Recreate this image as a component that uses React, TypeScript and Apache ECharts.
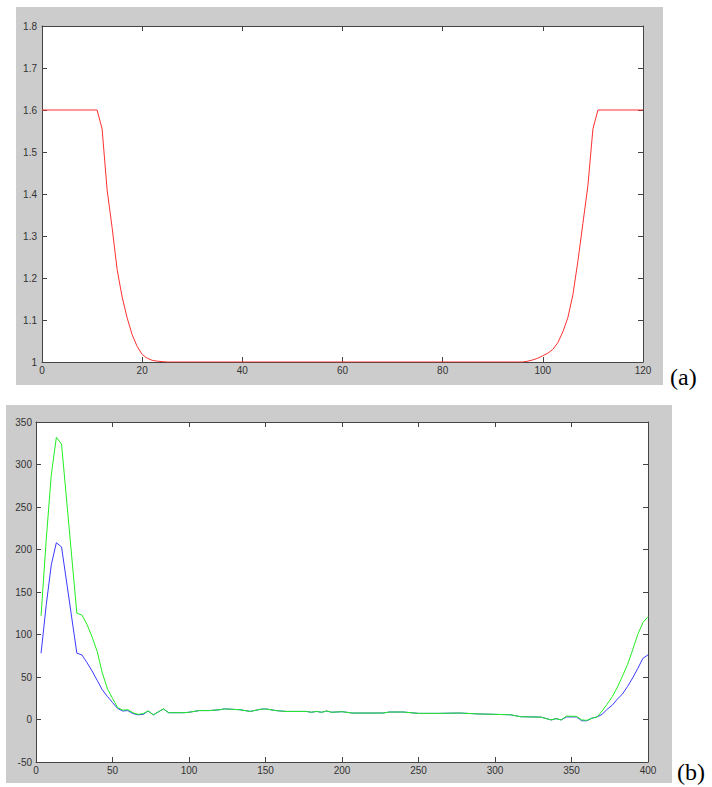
import { useEffect, useRef } from "react";
import * as echarts from "echarts";

// Panel (a): red profile
const aX = [0, 11, 12, 13, 14, 15, 16, 17, 18, 19, 20, 21, 22, 23, 24, 25,
  96, 97, 98, 99, 100, 101, 102, 103, 104, 105, 106, 107, 108, 109, 110, 111, 120];
const aY = [1.6, 1.6, 1.555, 1.41, 1.32, 1.22, 1.155, 1.105, 1.065, 1.037, 1.018, 1.009, 1.004, 1.002, 1.001, 1.0,
  1.0, 1.002, 1.005, 1.009, 1.015, 1.021, 1.03, 1.046, 1.072, 1.106, 1.16, 1.24, 1.33, 1.42, 1.555, 1.6, 1.6];
const aXTicks = { min: 0, max: 120, interval: 20 };
const aYTicks = { min: 1, max: 1.8, interval: 0.1 };

// Panel (b): green and blue curves
const bX = [
  3.3, 6.7, 10, 13.3, 16.7, 26.7, 30, 33.3, 36.7, 40,
  43.3, 46.7, 50, 53.3, 56.7, 60, 63.3, 66.7, 70, 73.3,
  76.7, 80, 83.3, 86.7, 90, 96.7, 100, 106.7, 113.3, 120,
  123.3, 133.3, 140, 146.7, 150, 156.7, 163.3, 176.7, 180, 183.3,
  186.7, 190, 193.3, 200, 206.7, 226.7, 231, 240, 250, 263.3,
  276.7, 290, 310, 316.7, 330, 336.7, 340, 343.3, 346.7, 353.3,
  356.7, 360, 363.3, 366.7, 370, 373.3, 376.7, 380, 383.3, 386.7,
  390, 393.3, 396.7, 400,
];
const greenY = [
  122, 212, 288, 332, 324, 125, 123, 112, 97, 80,
  55, 36, 25, 14, 11, 11.5, 8, 6, 7, 10,
  5.5, 9, 12.5, 8, 8, 8, 8.5, 10.5, 10.5, 11.5,
  12.5, 11.5, 9.5, 12, 12.5, 10.5, 9.5, 9.5, 8.5, 9.5,
  8.5, 10, 8.5, 9.2, 7.6, 7.6, 8.8, 8.8, 7.2, 7.2,
  7.6, 6.5, 5.6, 3.3, 2.8, -0.5, 1, -0.5, 4, 3.6,
  -0.5, -1, 1.5, 3, 10, 18, 27, 38, 51, 65,
  82, 100, 114, 121,
];
const blueY = [
  78, 135, 182, 208, 203, 78, 76, 67, 57, 46,
  35, 27, 20, 13, 10, 10.5, 7, 5.5, 6, 10,
  5.5, 9, 12.5, 8, 8, 8, 8.5, 10.5, 10.5, 11.5,
  12.5, 11.5, 9.5, 12, 12.5, 10.5, 9.5, 9.5, 8.5, 9.5,
  8.5, 10, 8.5, 9.2, 7.6, 7.6, 8.8, 8.8, 7.2, 7.2,
  7.6, 6.5, 5.6, 3.3, 2.8, -0.5, 1, -0.5, 3, 3,
  -1.5, -1.5, 1.5, 3, 6, 12, 17, 24, 30, 39,
  49, 60, 72, 76,
];
const bXTicks = { min: 0, max: 400, interval: 50 };
const bYTicks = { min: -50, max: 350, interval: 50 };

const panelLabels = ["(a)", "(b)"];

const AXIS_COLOR = "#444";

function mkAxis(gridIndex: number, position: string, ticks: any, showLabel: boolean, margin: number) {
  return {
    type: "value",
    gridIndex,
    position,
    min: ticks.min,
    max: ticks.max,
    interval: ticks.interval,
    axisLine: { show: true, onZero: false, lineStyle: { color: AXIS_COLOR, width: 1 } },
    axisTick: { show: true, inside: true, length: 5, lineStyle: { color: AXIS_COLOR, width: 1 } },
    axisLabel: {
      show: showLabel,
      color: "#333",
      fontSize: 10,
      fontFamily: "Liberation Sans",
      margin,
      hideOverlap: false,
    },
    splitLine: { show: false },
  };
}

export default function App() {
  const ref = useRef<HTMLDivElement>(null);
  useEffect(() => {
    document.body.style.margin = "0";
    const chart = echarts.init(ref.current!, null, { renderer: "svg" });
    const option: any = {
      animation: false,
      backgroundColor: "#fff",
      grid: [
        { left: 42, top: 26, width: 601, height: 336, show: true, backgroundColor: "#fff", borderWidth: 0 },
        { left: 36, top: 422, width: 612, height: 340, show: true, backgroundColor: "#fff", borderWidth: 0 },
      ],
      xAxis: [
        mkAxis(0, "bottom", aXTicks, true, 3),
        mkAxis(0, "top", aXTicks, false, 3),
        mkAxis(1, "bottom", bXTicks, true, 3),
        mkAxis(1, "top", bXTicks, false, 3),
      ],
      yAxis: [
        mkAxis(0, "left", aYTicks, true, 5),
        mkAxis(0, "right", aYTicks, false, 5),
        mkAxis(1, "left", bYTicks, true, 4),
        mkAxis(1, "right", bYTicks, false, 4),
      ],
      graphic: [
        { type: "rect", z: -10, shape: { x: 16, y: 7, width: 647, height: 378 }, style: { fill: "#cccccc" } },
        { type: "rect", z: -10, shape: { x: 6, y: 405, width: 666, height: 378 }, style: { fill: "#cccccc" } },
        {
          type: "text", x: 670, y: 377,
          style: { text: panelLabels[0], fontFamily: "Liberation Serif", fontSize: 24, fill: "#000", textVerticalAlign: "middle" },
        },
        {
          type: "text", x: 677, y: 772,
          style: { text: panelLabels[1], fontFamily: "Liberation Serif", fontSize: 24, fill: "#000", textVerticalAlign: "middle" },
        },
      ],
      series: [
        {
          type: "line", xAxisIndex: 0, yAxisIndex: 0, symbol: "none", silent: true,
          lineStyle: { color: "#ff3030", width: 1 },
          data: aX.map((x, i) => [x, aY[i]]),
        },
        {
          type: "line", xAxisIndex: 2, yAxisIndex: 2, symbol: "none", silent: true,
          lineStyle: { color: "#3a3aff", width: 1 },
          data: bX.map((x, i) => [x, blueY[i]]),
        },
        {
          type: "line", xAxisIndex: 2, yAxisIndex: 2, symbol: "none", silent: true,
          lineStyle: { color: "#22ee22", width: 1 },
          data: bX.map((x, i) => [x, greenY[i]]),
        },
      ],
    };
    chart.setOption(option);
    return () => chart.dispose();
  }, []);
  return <div ref={ref} style={{ width: 712, height: 787 }} />;
}
